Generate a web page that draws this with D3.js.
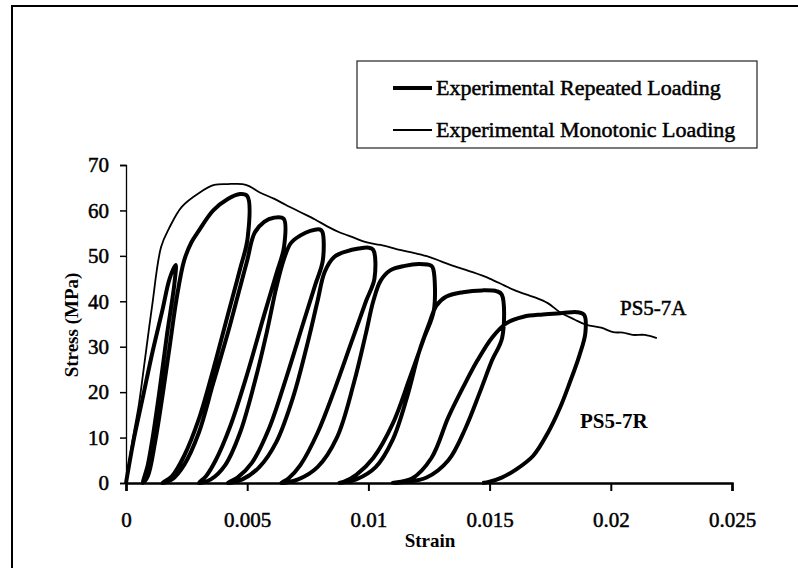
<!DOCTYPE html>
<html>
<head>
<meta charset="utf-8">
<script src="https://cdn.jsdelivr.net/npm/d3@7"></script>
<style>
  html, body { margin: 0; padding: 0; background: #fff; }
  svg text { font-family: "Liberation Serif", "Times New Roman", serif; fill: #000; }
</style>
</head>
<body>
<div id="chart"></div>
<script>
// Monotonic loading curve (PS5-7A)
const monoStrain = [0, 0.00025, 0.00054, 0.00074, 0.00107, 0.00145, 0.00178, 0.0023, 0.003, 0.00364, 0.0042, 0.0048,
  0.0051, 0.0055, 0.0061, 0.0066, 0.0072, 0.0078, 0.0083, 0.0088, 0.0094, 0.0099, 0.0105, 0.0113, 0.0119, 0.0125,
  0.013, 0.0135, 0.0143, 0.015, 0.0156, 0.016, 0.0165, 0.0169, 0.0174, 0.0179, 0.0185, 0.019, 0.0196, 0.0201, 0.0205,
  0.0209, 0.0214, 0.0219];
const monoStress = [0, 8.8, 17.6, 25.5, 38.7, 52, 56.1, 60.8, 63.8, 65.6, 65.8, 65.8,
  65.3, 64, 62.6, 61.2, 59.6, 58, 56.5, 55.2, 54, 53, 52.4, 51.3, 50.6, 49.8,
  48.8, 47.8, 46.4, 45, 43.5, 42.5, 41.5, 40.8, 39.6, 37.6, 36, 34.8, 34.2, 33.2, 33.1,
  32.6, 32.6, 31.9];

// Repeated loading curve (PS5-7R), one continuous path through all cycles
const repStrain = [
  0, 0.0003, 0.0007, 0.0011, 0.0015, 0.0018, 0.00205,
  0.002, 0.0017, 0.0014, 0.0011, 0.0009, 0.0007,
  0.0009, 0.0012, 0.0015, 0.0018, 0.0021, 0.0024, 0.0027, 0.003, 0.0036, 0.0042, 0.0047, 0.005,
  0.00502, 0.0047, 0.0042, 0.0036, 0.003, 0.0024, 0.0019, 0.0015,
  0.0019, 0.0024, 0.003, 0.0036, 0.0042, 0.0047, 0.005, 0.0053, 0.0057, 0.0061, 0.0065,
  0.00652, 0.0062, 0.0057, 0.005, 0.0043, 0.0037, 0.0033, 0.003,
  0.0035, 0.0041, 0.0047, 0.0053, 0.0058, 0.0062, 0.0065, 0.0068, 0.0072, 0.0076, 0.008, 0.0081,
  0.00812, 0.0078, 0.0073, 0.0066, 0.0059, 0.0052, 0.0046, 0.0042,
  0.0048, 0.0055, 0.0062, 0.0069, 0.0075, 0.0079, 0.0082, 0.0086, 0.0091, 0.0096, 0.01, 0.0102,
  0.01025, 0.0099, 0.0093, 0.0086, 0.0079, 0.0072, 0.0067, 0.0064,
  0.0071, 0.0079, 0.0087, 0.0094, 0.0099, 0.0102, 0.0105, 0.0109, 0.0115, 0.0121, 0.0126, 0.01268,
  0.0127, 0.0123, 0.0117, 0.011, 0.0102, 0.0095, 0.009, 0.0088,
  0.0095, 0.0103, 0.011, 0.0116, 0.0121, 0.0125, 0.0128, 0.0132, 0.0139, 0.0147, 0.0153, 0.0155,
  0.01552, 0.0151, 0.0146, 0.014, 0.0133, 0.0124, 0.0115, 0.011,
  0.0118, 0.0126, 0.0133, 0.0139, 0.0145, 0.0151, 0.0157, 0.0164, 0.0172, 0.018, 0.0186, 0.0189,
  0.01895, 0.0187, 0.0183, 0.0179, 0.0174, 0.0168, 0.0161, 0.0155, 0.015, 0.0147
];
const repStress = [
  0, 9, 19, 29, 38, 45, 48,
  44, 33, 21, 10, 4, 0,
  1.5, 9, 19, 30, 41, 49, 53, 55.5, 60, 62.5, 63.6, 63.2,
  54, 47, 37, 25, 14, 6, 1.5, 0,
  0.8, 4, 11, 22, 33, 43, 49, 55, 57.5, 58.4, 58.2,
  52, 46, 37, 24, 12.5, 5, 1.5, 0,
  0.8, 4, 11, 22, 33, 43, 49, 52.8, 54.5, 55.5, 55.8, 55.3,
  49, 43.5, 35, 23, 12, 4.5, 1.2, 0,
  0.8, 3.5, 9, 19, 31, 40, 46.5, 49.8, 51, 51.6, 51.8, 51.3,
  45, 40, 31, 20.5, 11, 4, 1, 0,
  0.8, 3.5, 10, 22, 33, 40, 44.5, 46.8, 47.8, 48.2, 47.8, 47,
  38, 32, 23, 13, 5.5, 1.8, 0.3, 0,
  0.8, 3.5, 9.5, 19, 29, 35, 39, 41, 42, 42.4, 42.2, 41.5,
  32, 27, 20, 12, 5, 1.2, 0.2, 0,
  1, 5.5, 14.5, 21, 27, 32, 35.2, 36.6, 37.1, 37.4, 37.6, 37,
  33, 28, 22, 16.5, 11, 6, 3, 1.2, 0.3, 0
];

const xTicks = [0, 0.005, 0.01, 0.015, 0.02, 0.025];
const xTickLabels = ["0", "0.005", "0.01", "0.015", "0.02", "0.025"];
const yTicks = [0, 10, 20, 30, 40, 50, 60, 70];
const legendLabels = ["Experimental Repeated Loading", "Experimental Monotonic Loading"];

const W = 798, H = 568;

const svg = d3.select("#chart").append("svg")
  .attr("width", W)
  .attr("height", H);

// outer frame (runs off the right and bottom edges)
svg.append("path")
  .attr("d", `M12,${H + 5} L12,6 L${W + 5},6`)
  .attr("fill", "none")
  .attr("stroke", "#000")
  .attr("stroke-width", 2);

const x = d3.scaleLinear().domain([0, 0.025]).range([126, 732]);
const y = d3.scaleLinear().domain([0, 70]).range([483, 165]);

// y axis
const yAxis = svg.append("g")
  .attr("transform", `translate(${x(0)},0)`)
  .call(d3.axisLeft(y).tickValues(yTicks).tickSize(6).tickPadding(11).tickFormat(d3.format("d")));
yAxis.select(".domain").attr("stroke", "#000").attr("stroke-width", 1.3);
yAxis.selectAll(".tick line").attr("stroke", "#000").attr("stroke-width", 1.5);
yAxis.selectAll("text")
  .style("font-family", "Liberation Serif, serif")
  .style("font-size", "21px")
  .attr("stroke", "#000").attr("stroke-width", 0.5);

// x axis
const xAxis = svg.append("g")
  .attr("transform", `translate(0,${y(0)})`)
  .call(d3.axisBottom(x).tickValues(xTicks).tickSize(8).tickPadding(21)
    .tickFormat((d, i) => xTickLabels[i]));
xAxis.select(".domain").attr("stroke", "#000").attr("stroke-width", 2.5);
xAxis.selectAll(".tick line").attr("stroke", "#000").attr("stroke-width", 2);
xAxis.selectAll("text")
  .style("font-family", "Liberation Serif, serif")
  .style("font-size", "21px")
  .attr("stroke", "#000").attr("stroke-width", 0.5);

svg.append("text")
  .attr("x", 430)
  .attr("y", 547)
  .attr("text-anchor", "middle")
  .style("font-size", "19px")
  .style("font-weight", "bold")
  .text("Strain");

svg.append("text")
  .attr("transform", "translate(78,325) rotate(-90)")
  .attr("text-anchor", "middle")
  .style("font-size", "19px")
  .style("font-weight", "bold")
  .text("Stress (MPa)");

const line = d3.line()
  .x(d => x(d[0]))
  .y(d => y(d[1]))
  .curve(d3.curveCatmullRom.alpha(0.5));

const monoData = monoStrain.map((s, i) => [s, monoStress[i]]);
const repData = repStrain.map((s, i) => [s, repStress[i]]);

svg.append("path")
  .datum(monoData)
  .attr("fill", "none")
  .attr("stroke", "#000")
  .attr("stroke-width", 1.8)
  .attr("d", line);

svg.append("path")
  .datum(repData)
  .attr("fill", "none")
  .attr("stroke", "#000")
  .attr("stroke-width", 4)
  .attr("stroke-linejoin", "round")
  .attr("d", line);

// curve labels
svg.append("text")
  .attr("x", 620).attr("y", 315)
  .style("font-size", "21px")
  .attr("stroke", "#000").attr("stroke-width", 0.5)
  .text("PS5-7A");

svg.append("text")
  .attr("x", 580).attr("y", 428)
  .style("font-size", "21px")
  .style("font-weight", "bold")
  .text("PS5-7R");

// legend
const legend = svg.append("g");
legend.append("rect")
  .attr("x", 357).attr("y", 61)
  .attr("width", 400).attr("height", 87)
  .attr("fill", "#fff")
  .attr("stroke", "#222")
  .attr("stroke-width", 1.2);

legendLabels.forEach((label, i) => {
  const ly = 88 + i * 42;
  legend.append("line")
    .attr("x1", 393).attr("x2", 432)
    .attr("y1", ly).attr("y2", ly)
    .attr("stroke", "#000")
    .attr("stroke-width", i === 0 ? 4 : 1.8);
  legend.append("text")
    .attr("x", 436).attr("y", ly + 7)
    .style("font-size", "22px")
    .attr("stroke", "#000").attr("stroke-width", 0.5)
    .text(label);
});
</script>
</body>
</html>
